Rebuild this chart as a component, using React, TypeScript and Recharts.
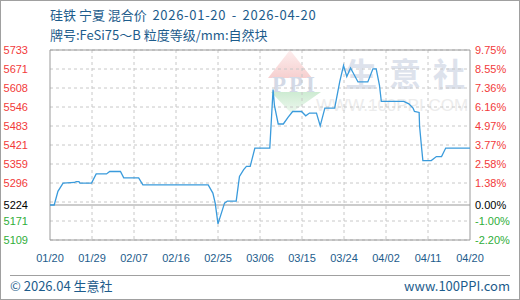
import React from 'react';
import { LineChart, Line, XAxis, YAxis, CartesianGrid, ReferenceLine, ReferenceArea } from 'recharts';

const days = [0, 0.9, 1.7, 2.8, 5.3, 5.6, 6.2, 6.4, 8.9, 9.9, 12.1, 12.8, 15.1, 15.8, 19, 19.9, 33.9, 34.9, 35.4, 36, 37.4, 38, 39.9, 40.6, 41.5, 42.1, 42.9, 43.9, 47.1, 47.8, 48.1, 48.9, 50, 51, 52, 53.9, 54.8, 55.6, 57.1, 57.9, 58.9, 61, 62.1, 62.9, 63.6, 64.4, 66, 68.1, 69.2, 69.9, 70.6, 71, 75.8, 76.9, 77.8, 78.1, 79.1, 79.2, 79.6, 79.9, 81.7, 82.8, 83.9, 84.8, 90];
const prices = [5224, 5224, 5269, 5296, 5298, 5301, 5301, 5296, 5296, 5326, 5326, 5334, 5334, 5313, 5313, 5290, 5290, 5263, 5230, 5162, 5230, 5237, 5237, 5318, 5340, 5351, 5351, 5411, 5411, 5603, 5550, 5490, 5490, 5512, 5531, 5531, 5517, 5526, 5526, 5484, 5542, 5542, 5630, 5682, 5646, 5674, 5628, 5628, 5671, 5671, 5617, 5564, 5564, 5556, 5542, 5531, 5528, 5482, 5416, 5370, 5370, 5383, 5383, 5411, 5411];

const xTickDays = [0, 9, 18, 27, 36, 45, 54, 63, 72, 81, 90];
const xTickLabels = ['01/20', '01/29', '02/07', '02/16', '02/25', '03/06', '03/15', '03/24', '04/02', '04/11', '04/20'];
const leftTickValues = [5109, 5171.4, 5233.8, 5296.2, 5358.6, 5421, 5483.4, 5545.8, 5608.2, 5670.6, 5733];
const leftTickLabels = ['5109', '5171', '', '5296', '5359', '5421', '5483', '5546', '5608', '5671', '5733'];
const rightTickLabels = ['-2.20%', '-1.00%', '', '1.38%', '2.58%', '3.77%', '4.97%', '6.16%', '7.36%', '8.55%', '9.75%'];
const basePrice = 5224;
const baseLabelLeft = '5224';
const baseLabelRight = '0.00%';

const data = days.map((d, i) => ({ day: d, price: prices[i] }));
const allTicks = [...leftTickValues, basePrice];

const RED = '#f23a3a';
const GREEN = '#2fae3a';
const BLUE_TEXT = '#1d5c8c';
const FONT = '"Liberation Sans", Arial, sans-serif';
const CJK = '"Noto Sans CJK SC", "Noto Sans", sans-serif';

function colorFor(v: number) {
  if (v === basePrice) return '#000';
  return v > basePrice ? RED : GREEN;
}

const LeftTick = (props: any) => {
  const v = props.payload.value;
  const label = v === basePrice ? baseLabelLeft : leftTickLabels[leftTickValues.indexOf(v)];
  if (!label) return <g />;
  return (
    <text x={props.x} y={props.y} dy={4} textAnchor="end" fontSize={11} fontFamily={FONT} fill={colorFor(v)}>
      {label}
    </text>
  );
};

const RightTick = (props: any) => {
  const v = props.payload.value;
  const label = v === basePrice ? baseLabelRight : rightTickLabels[leftTickValues.indexOf(v)];
  if (!label) return <g />;
  return (
    <text x={props.x} y={props.y} dy={4} textAnchor="start" fontSize={11} fontFamily={FONT} fill={colorFor(v)}>
      {label}
    </text>
  );
};

export default function App() {
  return (
    <div style={{ position: 'absolute', left: 0, top: 0, width: 520, height: 300, background: '#fff', overflow: 'hidden' }}>
      <svg width={520} height={300} style={{ position: 'absolute', left: 0, top: 0 }}>
        <defs>
          <linearGradient id="pk" x1="0" y1="0" x2="0" y2="1">
            <stop offset="0" stopColor="#fdeeee" />
            <stop offset="1" stopColor="#f6cfcf" />
          </linearGradient>
          <linearGradient id="gn" x1="0" y1="0" x2="0" y2="1">
            <stop offset="0" stopColor="#cdebd2" />
            <stop offset="1" stopColor="#eef8ef" />
          </linearGradient>
        </defs>
        <polygon points="290,50 268,78 312,78" fill="url(#pk)" />
        <polygon points="271,92 321,92 291,113" fill="url(#gn)" />
        <text x={295} y={92} textAnchor="middle" fontSize={23} fontFamily='"Liberation Serif", serif' fontWeight="bold" fill="#d3d9e6" letterSpacing={3}>PPI</text>
        <text x={345} y={86} fontSize={32} fontFamily={CJK} fontWeight="bold" fill="#dde2ec" letterSpacing={12}>生意社</text>
        <text x={316} y={111} fontSize={17} fontFamily={FONT} fill="#ececec">WWW.100PPI.COM</text>
      </svg>
      <div style={{ position: 'absolute', left: 0, top: 0 }}>
        <LineChart width={520} height={300} data={data} margin={{ top: 50, right: 8, bottom: 35, left: 8 }}>
          <CartesianGrid
            stroke="#c8c8c8"
            strokeDasharray="3 3"
            horizontalValues={leftTickValues}
            verticalValues={xTickDays.slice(1, -1)}
          />
          <XAxis
            dataKey="day"
            type="number"
            domain={[0, 90]}
            ticks={xTickDays}
            tickFormatter={(v: number) => xTickLabels[xTickDays.indexOf(v)]}
            axisLine={false}
            tickLine={false}
            tickMargin={8}
            height={25}
            interval={0}
            tick={{ fontSize: 11, fontFamily: FONT, fill: BLUE_TEXT }}
          />
          <YAxis
            yAxisId={0}
            domain={[5109, 5733]}
            ticks={allTicks}
            interval={0}
            width={42}
            axisLine={false}
            tickLine={false}
            tickSize={0}
            tickMargin={22}
            tick={<LeftTick />}
          />
          <YAxis
            yAxisId="right"
            orientation="right"
            domain={[5109, 5733]}
            ticks={allTicks}
            interval={0}
            width={42}
            axisLine={false}
            tickLine={false}
            tickSize={0}
            tickMargin={5}
            tick={<RightTick />}
          />
          <ReferenceArea x1={0} x2={90} y1={5109} y2={5733} fill="none" stroke="#9a9a9a" strokeWidth={1} ifOverflow="visible" />
          <ReferenceLine y={basePrice} stroke="#999" strokeWidth={1.2} />
          <Line yAxisId="right" type="linear" dataKey="price" stroke="none" dot={false} activeDot={false} isAnimationActive={false} legendType="none" />
          <Line type="linear" dataKey="price" stroke="#3a9bdc" strokeWidth={1.3} dot={false} isAnimationActive={false} />
        </LineChart>
      </div>
      <div style={{ position: 'absolute', left: 50, top: 7, fontFamily: CJK, fontSize: 13, lineHeight: '16px', color: BLUE_TEXT, whiteSpace: 'pre' }}>
        硅铁 宁夏 混合价<span style={{ letterSpacing: 0.7, wordSpacing: 2 }}> 2026-01-20 - 2026-04-20</span>
      </div>
      <div style={{ position: 'absolute', left: 50, top: 27, fontFamily: CJK, fontSize: 13, lineHeight: '16px', color: BLUE_TEXT, whiteSpace: 'pre' }}>
        牌号:FeSi75～B 粒度等级/mm:自然块
      </div>
      <div style={{ position: 'absolute', left: 10, top: 275, width: 500, height: 1, background: '#a0a0a0' }} />
      <div style={{ position: 'absolute', left: 10, top: 278, fontFamily: CJK, fontSize: 13, lineHeight: '16px', color: BLUE_TEXT, whiteSpace: 'pre' }}>
        © 2026.04 生意社
      </div>
      <div style={{ position: 'absolute', right: 10, top: 278, fontFamily: CJK, fontSize: 13, lineHeight: '16px', color: BLUE_TEXT, whiteSpace: 'pre' }}>
        www.100PPI.com
      </div>
      <div style={{ position: 'absolute', left: 0, top: 0, width: 520, height: 300, boxSizing: 'border-box', border: '1px solid #a0a0a0', pointerEvents: 'none' }} />
    </div>
  );
}
